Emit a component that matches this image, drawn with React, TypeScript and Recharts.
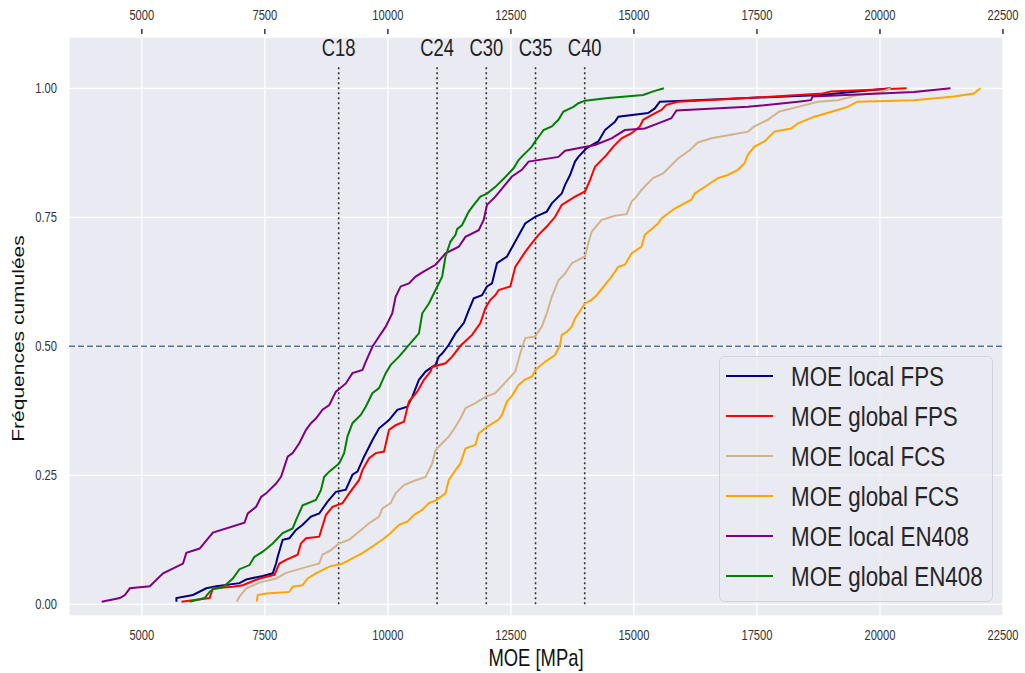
import React from 'react';
import {
    LineChart,
    Line,
    XAxis,
    YAxis,
    CartesianGrid,
    ReferenceLine,
    Legend
} from 'recharts';

// [MOE (MPa), fréquence cumulée]
const moeLocalFps: [number, number][] = [
    [5703, 0.005], [5703, 0.012], [6039, 0.018], [6310, 0.031], [6513, 0.035], [6985, 0.041], [7121, 0.048],
    [7457, 0.055], [7660, 0.060], [7728, 0.079], [7761, 0.092], [7862, 0.125], [7998, 0.128], [8133, 0.144],
    [8268, 0.154], [8437, 0.170], [8605, 0.176], [8774, 0.199], [8943, 0.218], [9146, 0.222], [9280, 0.251],
    [9381, 0.257], [9516, 0.286], [9685, 0.318], [9821, 0.341], [10023, 0.357], [10192, 0.377], [10395, 0.383],
    [10496, 0.402], [10631, 0.435], [10766, 0.451], [10901, 0.460], [10969, 0.464], [11036, 0.480], [11103, 0.486],
    [11239, 0.503], [11374, 0.525], [11542, 0.545], [11644, 0.570], [11745, 0.593], [11914, 0.599], [12014, 0.616],
    [12116, 0.622], [12217, 0.661], [12420, 0.674], [12589, 0.703], [12791, 0.738], [12993, 0.751], [13229, 0.761],
    [13331, 0.777], [13533, 0.796], [13601, 0.813], [13702, 0.832], [13803, 0.858], [13871, 0.867], [14040, 0.884],
    [14276, 0.897], [14411, 0.919], [14614, 0.935], [14682, 0.945], [15289, 0.952], [15425, 0.961], [15526, 0.974],
    [16032, 0.976], [18800, 0.987], [20218, 1.0]
];

const moeGlobalFps: [number, number][] = [
    [5804, 0.005], [6377, 0.012], [6444, 0.031], [6849, 0.034], [7052, 0.037], [7390, 0.050], [7694, 0.057],
    [7795, 0.079], [7931, 0.086], [8166, 0.096], [8234, 0.118], [8336, 0.128], [8605, 0.131], [8740, 0.173],
    [8875, 0.189], [9078, 0.196], [9213, 0.215], [9416, 0.241], [9483, 0.260], [9618, 0.283], [9754, 0.293],
    [9922, 0.296], [10023, 0.338], [10157, 0.347], [10327, 0.354], [10428, 0.393], [10597, 0.412], [10732, 0.435],
    [10867, 0.451], [10901, 0.460], [11171, 0.467], [11306, 0.480], [11475, 0.501], [11711, 0.522], [11880, 0.545],
    [11981, 0.574], [12082, 0.590], [12183, 0.599], [12251, 0.609], [12488, 0.616], [12589, 0.654], [12791, 0.683],
    [12926, 0.700], [13061, 0.716], [13229, 0.732], [13398, 0.751], [13533, 0.774], [13803, 0.790], [14006, 0.800],
    [14107, 0.822], [14209, 0.848], [14445, 0.871], [14580, 0.887], [14749, 0.903], [14951, 0.913], [15120, 0.926],
    [15187, 0.939], [15356, 0.948], [15559, 0.958], [15660, 0.968], [15896, 0.974], [17315, 0.981], [18834, 0.990],
    [19003, 0.994], [20542, 1.0]
];

const moeLocalFcs: [number, number][] = [
    [6930, 0.005], [6985, 0.015], [7120, 0.031], [7390, 0.042], [7728, 0.050], [7931, 0.061], [8336, 0.072],
    [8605, 0.079], [8672, 0.096], [8842, 0.105], [9010, 0.118], [9213, 0.125], [9416, 0.141], [9618, 0.157],
    [9821, 0.170], [9888, 0.186], [10057, 0.196], [10157, 0.215], [10327, 0.231], [10496, 0.238], [10766, 0.247],
    [10901, 0.273], [10969, 0.299], [11103, 0.312], [11238, 0.325], [11374, 0.344], [11475, 0.360], [11576, 0.380],
    [11778, 0.390], [11981, 0.402], [12183, 0.409], [12387, 0.430], [12589, 0.451], [12690, 0.486], [12791, 0.516],
    [12993, 0.519], [13128, 0.538], [13229, 0.564], [13331, 0.596], [13466, 0.628], [13601, 0.641], [13736, 0.661],
    [14006, 0.674], [14074, 0.700], [14141, 0.722], [14344, 0.745], [14614, 0.753], [14850, 0.756], [14951, 0.780],
    [15052, 0.790], [15154, 0.803], [15255, 0.813], [15390, 0.826], [15593, 0.835], [15728, 0.848], [15897, 0.864],
    [16133, 0.880], [16302, 0.895], [16572, 0.903], [16977, 0.910], [17315, 0.916], [17450, 0.926], [17720, 0.939],
    [17957, 0.955], [18334, 0.964], [18739, 0.974], [19144, 0.977], [19549, 0.987], [20015, 0.992], [20218, 1.0]
];

const moeGlobalFcs: [number, number][] = [
    [7335, 0.005], [7356, 0.018], [7525, 0.021], [7998, 0.024], [8065, 0.034], [8268, 0.037], [8369, 0.050],
    [8538, 0.060], [8808, 0.073], [9078, 0.079], [9280, 0.089], [9483, 0.099], [9685, 0.112], [9888, 0.125],
    [10057, 0.138], [10226, 0.154], [10394, 0.160], [10530, 0.173], [10699, 0.183], [10834, 0.196], [10969, 0.201],
    [11171, 0.215], [11238, 0.241], [11374, 0.260], [11475, 0.273], [11576, 0.302], [11778, 0.309], [11846, 0.331],
    [12014, 0.344], [12251, 0.358], [12319, 0.367], [12420, 0.393], [12521, 0.404], [12656, 0.425], [12791, 0.436],
    [12926, 0.441], [13007, 0.455], [13196, 0.470], [13398, 0.483], [13500, 0.503], [13533, 0.522], [13635, 0.528],
    [13736, 0.538], [13803, 0.554], [14006, 0.583], [14141, 0.590], [14243, 0.599], [14546, 0.635], [14682, 0.654],
    [14817, 0.658], [14952, 0.680], [15154, 0.693], [15221, 0.716], [15492, 0.738], [15559, 0.748], [15830, 0.767],
    [16167, 0.784], [16235, 0.796], [16505, 0.813], [16707, 0.826], [16910, 0.832], [17113, 0.842], [17248, 0.855],
    [17315, 0.871], [17450, 0.887], [17653, 0.897], [17855, 0.916], [18192, 0.922], [18334, 0.932], [18665, 0.945],
    [19138, 0.958], [19340, 0.964], [19543, 0.974], [20692, 0.977], [21502, 0.984], [21907, 0.990], [22042, 1.0]
];

const moeLocalEn408: [number, number][] = [
    [4184, 0.005], [4554, 0.012], [4656, 0.018], [4757, 0.031], [5162, 0.035], [5432, 0.060], [5837, 0.079],
    [5905, 0.100], [6175, 0.108], [6444, 0.139], [7086, 0.158], [7153, 0.176], [7323, 0.189], [7424, 0.208],
    [7526, 0.215], [7728, 0.234], [7829, 0.247], [7964, 0.286], [8065, 0.293], [8200, 0.312], [8336, 0.338],
    [8437, 0.351], [8538, 0.360], [8672, 0.377], [8808, 0.386], [8943, 0.412], [9146, 0.428], [9280, 0.448],
    [9483, 0.454], [9550, 0.470], [9685, 0.499], [9821, 0.519], [9956, 0.538], [10090, 0.564], [10157, 0.596],
    [10260, 0.616], [10428, 0.622], [10563, 0.635], [10732, 0.645], [10969, 0.658], [11171, 0.680], [11441, 0.693],
    [11576, 0.712], [11846, 0.725], [11947, 0.745], [12014, 0.774], [12185, 0.790], [12521, 0.829], [12723, 0.842],
    [12859, 0.858], [13466, 0.867], [13601, 0.879], [14209, 0.890], [14546, 0.903], [14816, 0.919], [15221, 0.922],
    [15492, 0.932], [15762, 0.942], [15863, 0.957], [17315, 0.964], [18334, 0.974], [18597, 0.977], [18632, 0.984],
    [20692, 0.993], [21434, 1.0]
];

const moeGlobalEn408: [number, number][] = [
    [5972, 0.005], [6276, 0.012], [6377, 0.024], [6444, 0.029], [6647, 0.033], [6849, 0.050], [6984, 0.068],
    [7188, 0.076], [7289, 0.092], [7457, 0.102], [7660, 0.118], [7862, 0.138], [8065, 0.147], [8133, 0.163],
    [8268, 0.192], [8538, 0.202], [8639, 0.221], [8706, 0.247], [8808, 0.257], [9010, 0.273], [9111, 0.293],
    [9178, 0.325], [9280, 0.351], [9449, 0.367], [9550, 0.383], [9685, 0.409], [9821, 0.419], [9956, 0.448],
    [10058, 0.464], [10226, 0.480], [10395, 0.499], [10631, 0.525], [10699, 0.564], [10834, 0.583], [10969, 0.609],
    [11103, 0.635], [11171, 0.674], [11272, 0.703], [11374, 0.716], [11407, 0.727], [11508, 0.735], [11644, 0.761],
    [11745, 0.774], [11880, 0.790], [12014, 0.796], [12185, 0.809], [12387, 0.828], [12555, 0.845], [12656, 0.861],
    [12757, 0.871], [12926, 0.887], [12993, 0.897], [13095, 0.910], [13162, 0.919], [13331, 0.926], [13466, 0.939],
    [13568, 0.955], [13770, 0.964], [13871, 0.971], [14006, 0.976], [14478, 0.981], [15187, 0.987], [15425, 0.995],
    [15607, 1.0]
];

// classes de résistance (MOE moyen)
const classNames = ['C18', 'C24', 'C30', 'C35', 'C40'];
const classMoe = [9000, 11000, 12000, 13000, 14000];

const xTicks = [5000, 7500, 10000, 12500, 15000, 17500, 20000, 22500];
const yTicks = [0, 0.25, 0.5, 0.75, 1];

const series = [
    { name: 'MOE local FPS', color: '#000080', points: moeLocalFps },
    { name: 'MOE global FPS', color: '#ff0000', points: moeGlobalFps },
    { name: 'MOE local FCS', color: '#d2b48c', points: moeLocalFcs },
    { name: 'MOE global FCS', color: '#ffa500', points: moeGlobalFcs },
    { name: 'MOE local EN408', color: '#800080', points: moeLocalEn408 },
    { name: 'MOE global EN408', color: '#008000', points: moeGlobalEn408 },
];

const FONT = '"Liberation Sans", Arial, sans-serif';
const TEXT = '#333333';
const SQUEEZE = 0.8; // the figure is horizontally compressed

const BottomTick = (props: any) => {
    const { x, y, payload } = props;
    return (
        <g transform={`translate(${x},${y + 20}) scale(${SQUEEZE},1)`}>
            <text textAnchor="middle" dominantBaseline="central" fontSize={14} fontFamily={FONT} fill={TEXT}>
                {payload.value}
            </text>
        </g>
    );
};

const TopTick = (props: any) => {
    const { x, y, payload } = props;
    return (
        <g>
            <line x1={x} x2={x} y1={y - 8} y2={y - 3} stroke="#333" strokeWidth={1.5} />
            <g transform={`translate(${x},${y - 21}) scale(${SQUEEZE},1)`}>
                <text textAnchor="middle" dominantBaseline="central" fontSize={14} fontFamily={FONT} fill={TEXT}>
                    {payload.value}
                </text>
            </g>
        </g>
    );
};

const LeftTick = (props: any) => {
    const { x, y, payload } = props;
    return (
        <g transform={`translate(${x - 12},${y}) scale(${SQUEEZE},1)`}>
            <text textAnchor="end" dominantBaseline="central" fontSize={14} fontFamily={FONT} fill={TEXT}>
                {Number(payload.value).toFixed(2)}
            </text>
        </g>
    );
};

const LegendBox = () => (
    <svg width={274} height={246} style={{ display: 'block' }}>
        <rect x={0.5} y={0.5} width={273} height={245} rx={5} fill="#eaeaf2" fillOpacity={0.8} stroke="#d2d2da" />
        {series.map((s, i) => (
            <g key={s.name}>
                <line x1={7} x2={54} y1={20 + i * 40} y2={20 + i * 40} stroke={s.color} strokeWidth={2} />
                <g transform={`translate(72,${20 + i * 40}) scale(${SQUEEZE},1)`}>
                    <text dominantBaseline="central" fontSize={28} fontFamily={FONT} fill="#262626">
                        {s.name}
                    </text>
                </g>
            </g>
        ))}
    </svg>
);

export default function App() {
    return (
        <div style={{ position: 'absolute', left: 0, top: 0, background: '#fff' }}>
            <LineChart width={1025} height={673} margin={{ top: 7, right: 22, bottom: 27, left: 9 }}>
                <CartesianGrid xAxisId="b" fill="#eaeaf2" fillOpacity={1} stroke="#ffffff" strokeWidth={1.3} />
                <XAxis
                    xAxisId="b"
                    dataKey="v"
                    type="number"
                    domain={[3520, 22500]}
                    ticks={xTicks}
                    interval={0}
                    allowDataOverflow
                    height={30}
                    axisLine={false}
                    tickLine={false}
                    tickSize={0}
                    tickMargin={0}
                    tick={(p: any) => <BottomTick {...p} />}
                    label={(p: any) => {
                        const vb = p.viewBox;
                        return (
                            <g transform={`translate(${vb.x + vb.width / 2},${657.5}) scale(${SQUEEZE},1)`}>
                                <text textAnchor="middle" dominantBaseline="central" fontSize={23} fontFamily={FONT} fill="#111">
                                    MOE [MPa]
                                </text>
                            </g>
                        );
                    }}
                />
                <XAxis
                    xAxisId="t"
                    orientation="top"
                    dataKey="v"
                    type="number"
                    domain={[3520, 22500]}
                    ticks={xTicks}
                    interval={0}
                    allowDataOverflow
                    height={30}
                    axisLine={false}
                    tickLine={false}
                    tickSize={0}
                    tickMargin={0}
                    tick={(p: any) => <TopTick {...p} />}
                />
                <YAxis
                    type="number"
                    domain={[-0.0227, 1.0994]}
                    ticks={yTicks}
                    interval={0}
                    allowDataOverflow
                    width={60}
                    axisLine={false}
                    tickLine={false}
                    tickSize={0}
                    tickMargin={0}
                    tick={(p: any) => <LeftTick {...p} />}
                    label={(p: any) => {
                        const vb = p.viewBox;
                        return (
                            <g transform={`translate(18,${vb.y + vb.height / 2 + 12}) scale(${SQUEEZE},1) rotate(-90)`}>
                                <text textAnchor="middle" dominantBaseline="central" fontSize={21} fontFamily={FONT} fill="#111">
                                    Fréquences cumulées
                                </text>
                            </g>
                        );
                    }}
                />
                <ReferenceLine xAxisId="b" y={0.5} stroke="#4c72b0" strokeWidth={1.6} strokeDasharray="6 3" />
                {classMoe.map((m, i) => (
                    <ReferenceLine
                        key={classNames[i]}
                        xAxisId="b"
                        segment={[{ x: m, y: 0 }, { x: m, y: 1.045 }]}
                        stroke="#333"
                        strokeWidth={1.6}
                        strokeDasharray="2 3"
                        label={(p: any) => {
                            const vb = p.viewBox;
                            return (
                                <g transform={`translate(${vb.x + vb.width / 2},${vb.y - 17}) scale(${SQUEEZE},1)`}>
                                    <text textAnchor="middle" dominantBaseline="central" fontSize={23} fontFamily={FONT} fill="#222">
                                        {classNames[i]}
                                    </text>
                                </g>
                            );
                        }}
                    />
                ))}
                {series.map((s) => (
                    <Line
                        key={s.name}
                        xAxisId="b"
                        name={s.name}
                        data={s.points.map(([v, f]) => ({ v, f }))}
                        dataKey="f"
                        type="linear"
                        stroke={s.color}
                        strokeWidth={2}
                        dot={false}
                        activeDot={false}
                        isAnimationActive={false}
                    />
                ))}
                <Legend
                    layout="vertical"
                    align="center"
                    verticalAlign="middle"
                    content={() => <LegendBox />}
                    wrapperStyle={{ left: 719, top: 356, width: 274, height: 246 }}
                />
            </LineChart>
        </div>
    );
}
